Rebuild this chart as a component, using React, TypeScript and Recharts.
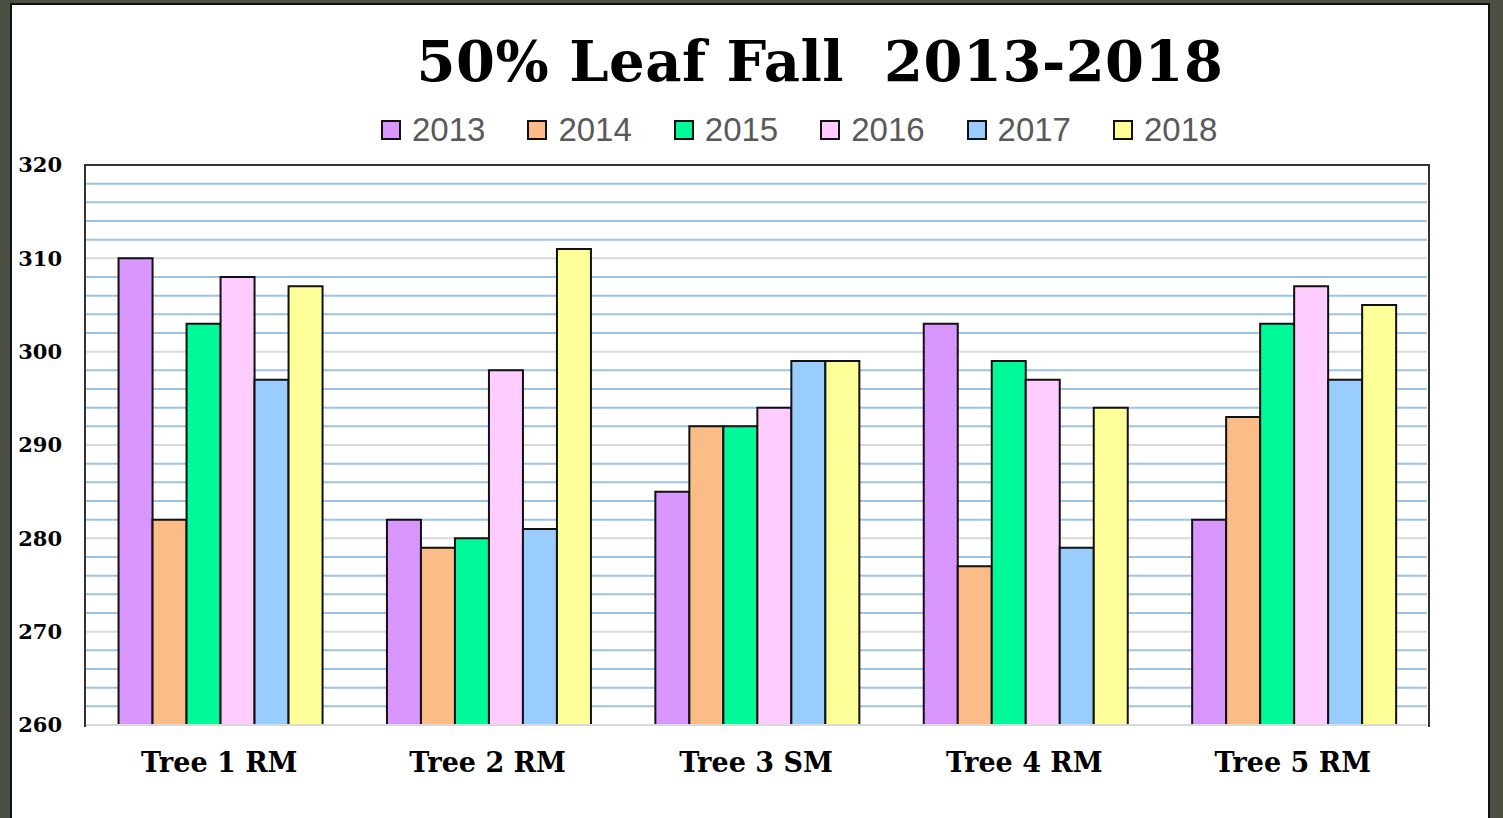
import React from "react";
import {
  Bar,
  BarChart,
  CartesianGrid,
  XAxis,
  YAxis,
} from "recharts";

const trees = ["Tree 1 RM", "Tree 2 RM", "Tree 3 SM", "Tree 4 RM", "Tree 5 RM"];
const years = ["2013", "2014", "2015", "2016", "2017", "2018"];

const y2013 = [310, 282, 285, 303, 282];
const y2014 = [282, 279, 292, 277, 293];
const y2015 = [303, 280, 292, 299, 303];
const y2016 = [308, 298, 294, 297, 307];
const y2017 = [297, 281, 299, 279, 297];
const y2018 = [307, 311, 299, 294, 305];

const yTicks = [260, 270, 280, 290, 300, 310, 320];
const minorLines = [262, 264, 266, 268, 272, 274, 276, 278, 282, 284, 286, 288, 292, 294, 296, 298, 302, 304, 306, 308, 312, 314, 316, 318];

const colors = ["#da96ff", "#fcbc88", "#00fa9a", "#ffccff", "#99ccff", "#ffff99"];

const series = [y2013, y2014, y2015, y2016, y2017, y2018];

const data = trees.map((name, i) => {
  const row: any = { name };
  years.forEach((yr, k) => {
    row[yr] = series[k][i];
  });
  return row;
});

const heavy = "'DejaVu Serif', 'Liberation Serif', serif";

export default function App() {
  return (
    <div
      style={{
        position: "absolute",
        left: 0,
        top: 0,
        width: 1503,
        height: 818,
        background: "#4a5142",
        overflow: "hidden",
      }}
    >
      <div
        style={{
          position: "absolute",
          left: 10,
          top: 3,
          width: 1476,
          height: 830,
          background: "#fff",
          border: "2px solid #111",
        }}
      />
      <div
        style={{
          position: "absolute",
          left: 0,
          top: 28,
          width: 1640,
          textAlign: "center",
          fontFamily: heavy,
          fontWeight: 900,
          fontSize: 56,
          color: "#000",
          whiteSpace: "pre",
          letterSpacing: 0.5,
        }}
      >
        {"50% Leaf Fall  2013-2018"}
      </div>
      {/* legend */}
      <div style={{ position: "absolute", left: 381, top: 112, display: "flex" }}>
        {years.map((yr, k) => (
          <div key={yr} style={{ display: "flex", alignItems: "center", width: 146.4 }}>
            <div
              style={{
                width: 16,
                height: 16,
                background: colors[k],
                border: "2px solid #111",
                marginRight: 11,
              }}
            />
            <span
              style={{
                fontFamily: "'Liberation Sans', Arial, sans-serif",
                fontSize: 33,
                color: "#595959",
                lineHeight: "36px",
              }}
            >
              {yr}
            </span>
          </div>
        ))}
      </div>
      <div style={{ position: "absolute", left: 0, top: 0 }}>
        <BarChart
          width={1503}
          height={818}
          data={data}
          margin={{ top: 165, right: 76, bottom: 63, left: 0 }}
          barCategoryGap="12.5%"
          barGap={0}
        >
          <CartesianGrid
            vertical={false}
            horizontalValues={minorLines}
            stroke="#9dc3e6"
            strokeWidth={2}
          />
          <CartesianGrid
            vertical={false}
            horizontalValues={yTicks}
            stroke="#d9d9d9"
            strokeWidth={2}
          />
          <XAxis
            dataKey="name"
            height={30}
            axisLine={{ stroke: "#d9d9d9", strokeWidth: 2 }}
            tickLine={false}
            tickSize={0}
            tickMargin={28}
            tick={{ fontFamily: heavy, fontWeight: 900, fontSize: 27, fill: "#000" }}
          />
          <YAxis
            width={85}
            domain={[260, 320]}
            ticks={yTicks}
            interval={0}
            axisLine={false}
            tickLine={false}
            tickSize={0}
            tickMargin={23}
            tick={{ fontFamily: heavy, fontWeight: 900, fontSize: 21, fill: "#000" }}
          />
          {years.map((yr, k) => (
            <Bar
              key={yr}
              dataKey={yr}
              fill={colors[k]}
              stroke="#111"
              strokeWidth={2}
              isAnimationActive={false}
            />
          ))}
        </BarChart>
      </div>
      <div
        style={{
          position: "absolute",
          left: 84,
          top: 164,
          width: 1342,
          height: 561,
          borderTop: "2px solid #333",
          borderLeft: "2px solid #333",
          borderRight: "2px solid #333",
          pointerEvents: "none",
        }}
      />
    </div>
  );
}
